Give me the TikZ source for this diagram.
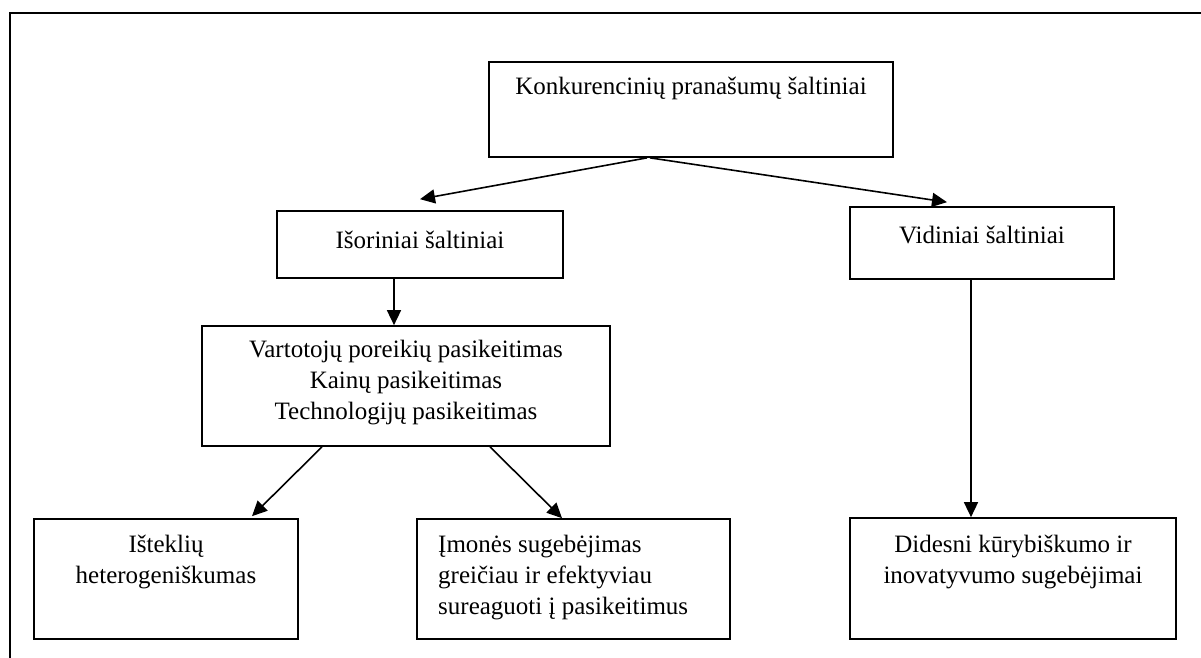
\documentclass[tikz,border=0pt]{standalone}
\usepackage{fontspec}
\setmainfont{Liberation Serif}
\usetikzlibrary{arrows.meta}
\begin{document}
\begin{tikzpicture}[x=1pt,y=-1pt,
  box/.style={draw, line width=1.7pt, inner sep=0pt, minimum width=#1},
  txt/.style={inner sep=0pt, align=center, font=\fontsize{25}{31}\selectfont},
  arr/.style={line width=1.6pt, -{Triangle[length=15pt,width=14pt]}},
  frameline/.style={line width=2.2pt}]
\useasboundingbox (0,0) rectangle (1201,657);

% open outer frame (top and left edges)
\coordinate (fcorner) at (10,13);
\coordinate (fright) at (1210,13);
\coordinate (fbottom) at (10,670);
\draw[frameline] (fright) -- (fcorner) -- (fbottom);

% boxes
\node[box=404pt, minimum height=95pt] (top) at (691,109.5) {};
\node[box=286pt, minimum height=67pt] (isor) at (420,244.5) {};
\node[box=264pt, minimum height=72pt] (vid) at (982,243) {};
\node[box=408pt, minimum height=120pt] (mid) at (406,386) {};
\node[box=264pt, minimum height=120pt] (ist) at (166,579) {};
\node[box=313pt, minimum height=120pt] (imon) at (573.5,579) {};
\node[box=326pt, minimum height=121pt] (did) at (1013,578.5) {};

% texts
\node[txt] (ttop) at (691,88) {Konkurencinių pranašumų šaltiniai};
\node[txt] (tisor) at (420,240) {Išoriniai šaltiniai};
\node[txt] (tvid) at (982,235) {Vidiniai šaltiniai};
\node[txt] (tmid) at (406,383) {Vartotojų poreikių pasikeitimas\\Kainų pasikeitimas\\Technologijų pasikeitimas};
\node[txt] (tist) at (166,562) {Išteklių\\heterogeniškumas};
\node[txt, align=left, anchor=west] (timon) at (438,578) {Įmonės sugebėjimas\\greičiau ir efektyviau\\sureaguoti į pasikeitimus};
\node[txt] (tdid) at (1013,562) {Didesni kūrybiškumo ir\\inovatyvumo sugebėjimai};

% connectors
\draw[arr] ([xshift=-44pt]top.south) -- ([yshift=11pt]isor.north);
\draw[arr] ([xshift=-41pt]top.south) -- ([xshift=-35pt,yshift=4pt]vid.north);
\draw[arr] ([xshift=-26pt]isor.south) -- ([xshift=-26pt]isor.south |- mid.north);
\draw[arr] ([xshift=-84pt]mid.south) -- ([xshift=86pt,yshift=2pt]ist.north);
\draw[arr] ([xshift=84pt]mid.south) -- ([xshift=-11.5pt]imon.north);
\draw[arr] ([xshift=-11pt]vid.south) -- ([xshift=-11pt]vid.south |- did.north);
\end{tikzpicture}
\end{document}
